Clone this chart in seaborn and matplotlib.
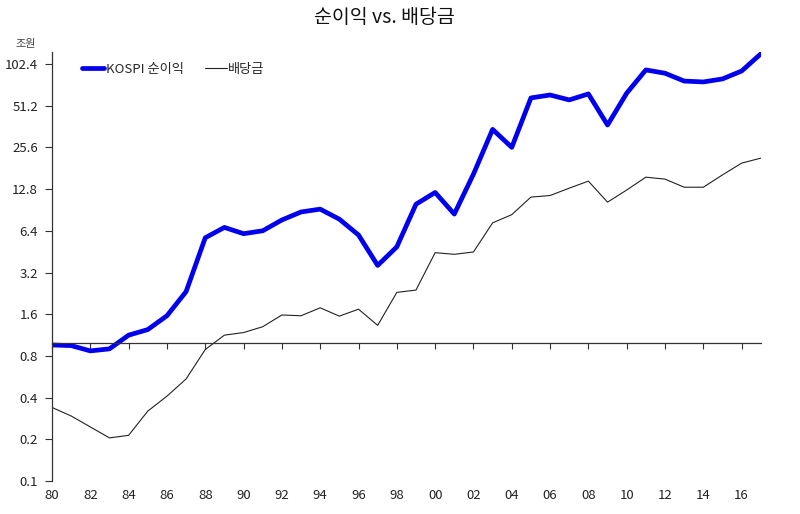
import matplotlib
matplotlib.use("Agg")
import matplotlib.pyplot as plt
import seaborn as sns
import pandas as pd
import numpy as np
from matplotlib.ticker import FixedLocator, NullLocator
from matplotlib.lines import Line2D

years = list(range(1980, 2018))
net_income = [0.96, 0.95, 0.87, 0.90, 1.13, 1.24, 1.56, 2.33, 5.7, 6.77,
              6.1, 6.4, 7.66, 8.75, 9.17, 7.76, 5.97, 3.6, 4.9, 9.95,
              12.1, 8.45, 16.4, 34.5, 25.6, 58.2, 61.1, 56.3, 62.2, 37.1,
              63.0, 92.7, 87.7, 77.0, 75.9, 79.8, 91.0, 121.0]
dividends = [0.34, 0.295, 0.246, 0.205, 0.214, 0.32, 0.41, 0.546, 0.89, 1.13,
             1.18, 1.30, 1.58, 1.56, 1.78, 1.55, 1.74, 1.33, 2.3, 2.39,
             4.45, 4.33, 4.5, 7.3, 8.37, 11.2, 11.5, 13.0, 14.6, 10.3,
             12.6, 15.6, 15.1, 13.2, 13.2, 16.2, 19.7, 21.4]
series_names = ["KOSPI 순이익", "배당금"]
y_ticks = [0.1, 0.2, 0.4, 0.8, 1.6, 3.2, 6.4, 12.8, 25.6, 51.2, 102.4]
y_tick_labels = ["0.1", "0.2", "0.4", "0.8", "1.6", "3.2", "6.4", "12.8", "25.6", "51.2", "102.4"]
x_ticks = list(range(1980, 2017, 2))
x_tick_labels = [f"{y % 100:02d}" for y in x_ticks]
title = "순이익 vs. 배당금"
unit_label = "조원"

sns.set_style("white")
plt.rcParams['font.family'] = ['Noto Sans CJK KR', 'DejaVu Sans']

df = pd.DataFrame({
    "year": years * 2,
    "value": net_income + dividends,
    "series": [series_names[0]] * len(years) + [series_names[1]] * len(years),
})

fig = plt.figure(figsize=(8.0, 5.14), dpi=100)
ax = fig.add_axes([0.065, 0.064, 0.886, 0.835])

sns.lineplot(data=df, x="year", y="value", hue="series", size="series",
             palette={series_names[0]: "#0000ee", series_names[1]: "#222222"},
             sizes={series_names[0]: 3.4, series_names[1]: 0.8},
             ax=ax, legend=False)

ax.set_yscale("log", base=2)
ax.set_ylim(0.1, 125)
ax.set_xlim(1980, 2017)
ax.yaxis.set_major_locator(FixedLocator(y_ticks))
ax.yaxis.set_minor_locator(NullLocator())
ax.set_yticklabels(y_tick_labels)
ax.tick_params(axis="y", which="major", direction="out", length=5, width=0.8,
               color="#333333", labelsize=9.5, labelcolor="#222222", pad=5, left=True)

for s in ["top", "right"]:
    ax.spines[s].set_visible(False)
ax.spines["left"].set_color("#333333")
ax.spines["left"].set_linewidth(0.9)
ax.spines["bottom"].set_position(("data", 1.0))
ax.spines["bottom"].set_color("#333333")
ax.spines["bottom"].set_linewidth(0.9)
ax.xaxis.set_major_locator(FixedLocator(x_ticks))
ax.tick_params(axis="x", which="major", direction="out", length=4, width=0.8,
               color="#333333", labelbottom=False, bottom=True)
ax.set_xlabel("")
ax.set_ylabel("")

sec = ax.secondary_xaxis(0.0)
sec.set_xticks(x_ticks)
sec.set_xticklabels(x_tick_labels)
sec.tick_params(axis="x", length=0, labelsize=9.5, labelcolor="#222222", pad=6)
sec.spines["bottom"].set_visible(False)

handles = [Line2D([], [], color="#0000ee", lw=3.4), Line2D([], [], color="#222222", lw=0.8)]
ax.legend(handles, series_names, loc="upper left", bbox_to_anchor=(0.042, 0.975),
          ncol=2, frameon=False, fontsize=9.5, handlelength=1.7, handletextpad=0.1,
          columnspacing=1.6, borderpad=0, borderaxespad=0)

fig.text(0.481, 0.965, title, ha="center", va="center", fontsize=14, color="#111111")
fig.text(0.019, 0.914, unit_label, ha="left", va="center", fontsize=8, color="#444444")

fig.savefig("out.png", dpi=100)
